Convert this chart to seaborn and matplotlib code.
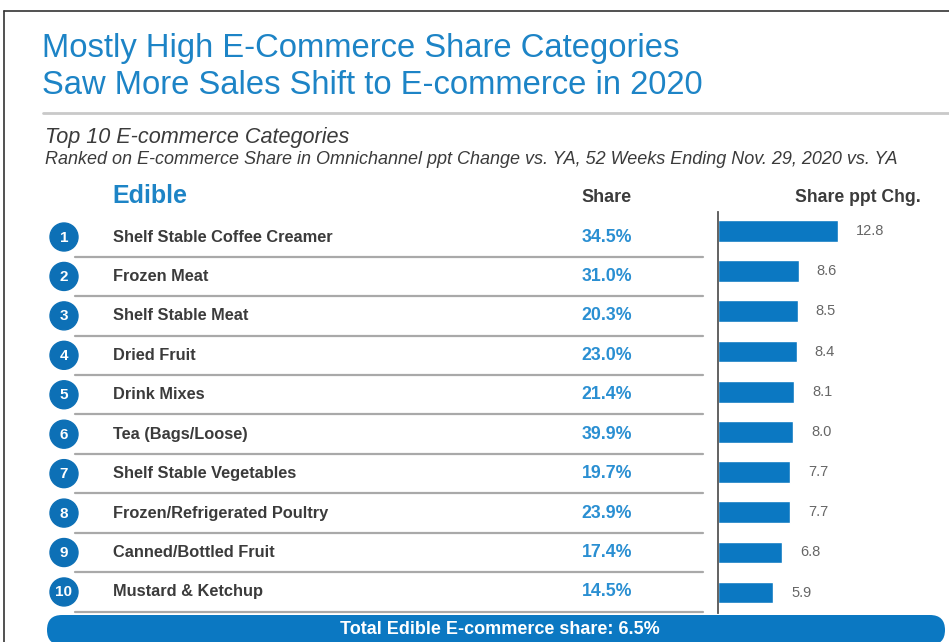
import matplotlib
matplotlib.use("Agg")
import matplotlib.pyplot as plt
from matplotlib.patches import Circle, FancyBboxPatch
import seaborn as sns

# Data
categories = [
    "Shelf Stable Coffee Creamer",
    "Frozen Meat",
    "Shelf Stable Meat",
    "Dried Fruit",
    "Drink Mixes",
    "Tea (Bags/Loose)",
    "Shelf Stable Vegetables",
    "Frozen/Refrigerated Poultry",
    "Canned/Bottled Fruit",
    "Mustard & Ketchup",
]
ranks = [1, 2, 3, 4, 5, 6, 7, 8, 9, 10]
share = [34.5, 31.0, 20.3, 23.0, 21.4, 39.9, 19.7, 23.9, 17.4, 14.5]
ppt_chg = [12.8, 8.6, 8.5, 8.4, 8.1, 8.0, 7.7, 7.7, 6.8, 5.9]
total_share = 6.5

title_lines = ["Mostly High E-Commerce Share Categories",
               "Saw More Sales Shift to E-commerce in 2020"]
subtitle = "Top 10 E-commerce Categories"
note = "Ranked on E-commerce Share in Omnichannel ppt Change vs. YA, 52 Weeks Ending Nov. 29, 2020 vs. YA"

sns.set_theme(style="white")
plt.rcParams["font.family"] = ["Liberation Sans", "DejaVu Sans"]

BLUE_TITLE = "#1d84c6"
BLUE_BAR = "#0b78c2"
BLUE_DOT = "#0d70b6"
BLUE_SHARE = "#2a8fd2"
DARK = "#3b3b3b"
GRAY = "#666666"

W, H = 949, 642
fig = plt.figure(figsize=(W / 100, H / 100), dpi=100)

# Background layer in pixel coordinates
bg = fig.add_axes([0, 0, 1, 1])
bg.set_xlim(0, W)
bg.set_ylim(H, 0)
bg.axis("off")

# Frame
bg.plot([4, W], [11, 11], color="#333333", lw=1.2)
bg.plot([4, 4], [11, H], color="#333333", lw=1.2)

# Title block
bg.text(42, 48, title_lines[0], color=BLUE_TITLE, fontsize=23.6, va="center", ha="left")
bg.text(42, 86, title_lines[1], color=BLUE_TITLE, fontsize=23.6, va="center", ha="left")
bg.plot([43, W], [113, 113], color="#c9c9c9", lw=2)

bg.text(45, 137, subtitle, color=DARK, fontsize=15.6, style="italic", va="center")
bg.text(45, 160, note, color=DARK, fontsize=13, style="italic", va="center")

# Column headers
bg.text(112, 196, "Edible", color=BLUE_TITLE, fontsize=18, fontweight="bold", va="center")
bg.text(607, 198, "Share", color=DARK, fontsize=13, fontweight="bold", va="center", ha="center")
bg.text(858, 198, "Share ppt Chg.", color=DARK, fontsize=12.7, fontweight="bold", va="center", ha="center")

row0, step = 237, 39.44
for i, (r, cat, s) in enumerate(zip(ranks, categories, share)):
    y = row0 + step * i
    bg.add_patch(Circle((64, y), 14, color=BLUE_DOT, zorder=3))
    bg.text(64, y + 0.5, str(r), color="white", fontsize=11, fontweight="bold",
            ha="center", va="center", zorder=4)
    bg.text(113, y, cat, color=DARK, fontsize=11.8, fontweight="bold", va="center")
    bg.text(607, y, f"{s:.1f}%", color=BLUE_SHARE, fontsize=12.8, fontweight="bold",
            va="center", ha="center")
    ys = y + step / 2
    bg.plot([75, 703], [ys, ys], color="#a9a9a9", lw=1.6)

# Total banner
bg.add_patch(FancyBboxPatch((47, 615), 898, 30, boxstyle="round,pad=0,rounding_size=15",
                            facecolor=BLUE_BAR, edgecolor="none", zorder=2))
bg.text(500, 630, f"Total Edible E-commerce share: {total_share}%", color="white",
        fontsize=13, fontweight="bold", ha="center", va="center", zorder=3)

# Bar panel
ax_top, ax_bot, ax_left = 212, 613, 718
bar_row0, bar_step = 231, 40.17
ax = fig.add_axes([ax_left / W, 1 - ax_bot / H, (W - ax_left) / W, (ax_bot - ax_top) / H])
ax.patch.set_alpha(0)
sns.barplot(x=ppt_chg, y=categories, orient="h", color=BLUE_BAR, saturation=1,
            width=0.54, ax=ax)
px_per_unit = 9.375
ax.set_xlim(0, (W - ax_left) / px_per_unit)
ax.set_ylim((ax_bot - bar_row0) / bar_step, (ax_top - bar_row0) / bar_step)
for c in ax.containers:
    ax.bar_label(c, fmt="%.1f", padding=13, color=GRAY, fontsize=10.5)
for side in ["top", "right", "bottom"]:
    ax.spines[side].set_visible(False)
ax.spines["left"].set_color("#555555")
ax.spines["left"].set_linewidth(1.3)
ax.set_xticks([])
ax.set_yticks([])
ax.set_xlabel("")
ax.set_ylabel("")

fig.savefig("out.png", dpi=100)
